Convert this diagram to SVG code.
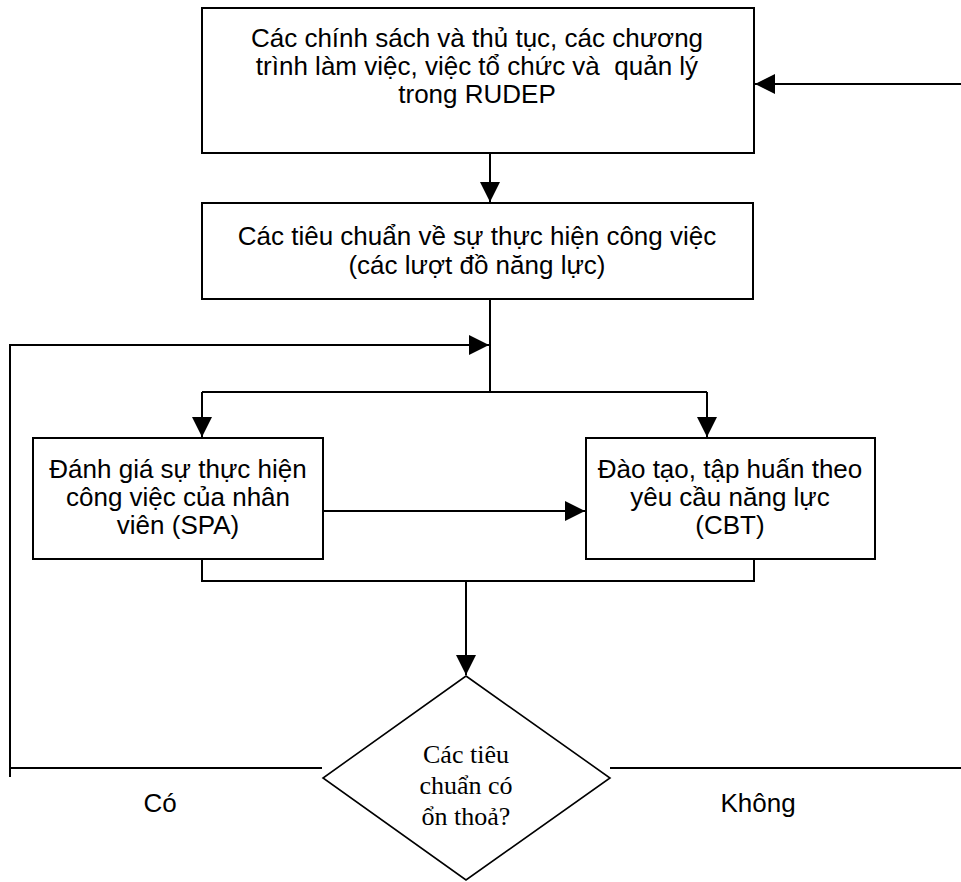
<svg xmlns="http://www.w3.org/2000/svg" width="961" height="882" viewBox="0 0 961 882">
<style>
.box{fill:#fff;stroke:#000;stroke-width:2}
.dia{fill:#fff;stroke:#000;stroke-width:1.6}
.ln{fill:none;stroke:#000;stroke-width:2}
.t{font-family:"Liberation Sans",Arial,sans-serif;font-size:26px;fill:#000;text-anchor:middle}
.tr{font-family:"Liberation Serif","Times New Roman",serif;font-size:26px;fill:#000;text-anchor:middle}
</style>
<defs>
<marker id="ah" markerUnits="userSpaceOnUse" markerWidth="20" markerHeight="20" refX="20" refY="10" orient="auto">
<path d="M0,0 L20,10 L0,20 Z" fill="#000"/>
</marker>
</defs>
<rect width="961" height="882" fill="#fff"/>
<g id="connectors">
<line class="ln" x1="961" y1="84" x2="755" y2="84" marker-end="url(#ah)"/>
<line class="ln" x1="490" y1="153" x2="490" y2="202" marker-end="url(#ah)"/>
<line class="ln" x1="490" y1="299" x2="490" y2="392"/>
<polyline class="ln" points="10,777 10,345 489,345" marker-end="url(#ah)"/>
<line class="ln" x1="202" y1="392" x2="707" y2="392"/>
<line class="ln" x1="202" y1="392" x2="202" y2="437" marker-end="url(#ah)"/>
<line class="ln" x1="707" y1="392" x2="707" y2="437" marker-end="url(#ah)"/>
<line class="ln" x1="323" y1="511" x2="585" y2="511" marker-end="url(#ah)"/>
<polyline class="ln" points="202,559 202,581 754,581 754,559"/>
<line class="ln" x1="466" y1="581" x2="466" y2="675" marker-end="url(#ah)"/>
<line class="ln" x1="10" y1="768" x2="322" y2="768"/>
<line class="ln" x1="610" y1="768" x2="961" y2="768"/>
</g>
<g id="n1">
<rect class="box" x="202" y="8" width="552" height="145"/>
<text class="t" x="477" y="47">Các chính sách và thủ tục, các chương</text>
<text class="t" x="477" y="75" xml:space="preserve">trình làm việc, việc tổ chức và  quản lý</text>
<text class="t" x="477" y="103">trong RUDEP</text>
</g>
<g id="n2">
<rect class="box" x="202" y="203" width="551" height="96"/>
<text class="t" x="477" y="245">Các tiêu chuẩn về sự thực hiện công việc</text>
<text class="t" x="477" y="274">(các lượt đồ năng lực)</text>
</g>
<g id="n3">
<rect class="box" x="33" y="438" width="290" height="121"/>
<text class="t" x="178" y="478">Đánh giá sự thực hiện</text>
<text class="t" x="178" y="506">công việc của nhân</text>
<text class="t" x="178" y="534">viên (SPA)</text>
</g>
<g id="n4">
<rect class="box" x="586" y="438" width="289" height="121"/>
<text class="t" x="730" y="478">Đào tạo, tập huấn theo</text>
<text class="t" x="730" y="506">yêu cầu năng lực</text>
<text class="t" x="730" y="534">(CBT)</text>
</g>
<g id="n5">
<polygon class="dia" points="466,676 610,778 466,880 323,778"/>
<text class="tr" x="466" y="763">Các tiêu</text>
<text class="tr" x="466" y="794">chuẩn có</text>
<text class="tr" x="466" y="825">ổn thoả?</text>
</g>
<g id="labels">
<text class="t" x="160" y="812">Có</text>
<text class="t" x="758" y="812">Không</text>
</g>
</svg>
